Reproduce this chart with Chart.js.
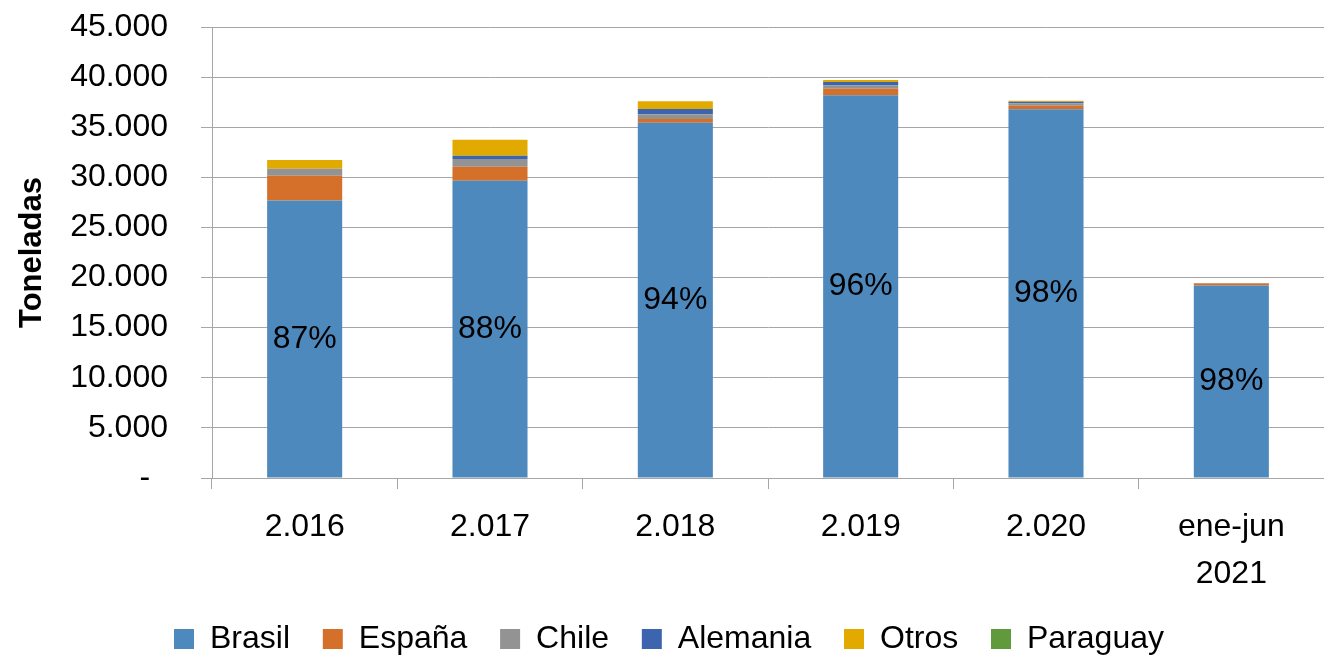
<!DOCTYPE html>
<html>
<head>
<meta charset="utf-8">
<script src="https://cdn.jsdelivr.net/npm/chart.js@4"></script>
<style>
  html, body { margin: 0; padding: 0; background: #fff; }
  #wrap { width: 1324px; height: 657px; }
</style>
</head>
<body>
<div id="wrap"><canvas id="chart"></canvas></div>
<script>
// categories and series (toneladas)
const categories = ['2.016', '2.017', '2.018', '2.019', '2.020', ['ene-jun', '2021']];
const brasil   = [27700, 29650, 35450, 38200, 36800, 19200];
const espana   = [2450, 1400, 380, 630, 330, 240];
const chile    = [700, 780, 470, 340, 270, 0];
const alemania = [0, 330, 530, 330, 130, 0];
const otros    = [880, 1590, 770, 200, 100, 0];
const paraguay = [0, 0, 0, 0, 0, 0];
const brasilShare = ['87%', '88%', '94%', '96%', '98%', '98%'];
const yTicks = [0, 5000, 10000, 15000, 20000, 25000, 30000, 35000, 40000, 45000];

const FONT = "'Liberation Sans', Arial, sans-serif";
const GRID = '#a6a6a6';

// formats 45000 -> 45.000, 0 -> '-'
function fmt(v) {
    if (v === 0) return '-  ';
    return v.toString().replace(/\B(?=(\d{3})+(?!\d))/g, '.');
}

// draws the share label in the middle of the Brasil bars
const shareLabels = {
    id: 'shareLabels',
    afterDatasetsDraw(chart) {
        const meta = chart.getDatasetMeta(0);
        const ctx = chart.ctx;
        ctx.save();
        ctx.font = '32px ' + FONT;
        ctx.fillStyle = '#000';
        ctx.textAlign = 'center';
        ctx.textBaseline = 'middle';
        meta.data.forEach((bar, i) => {
            ctx.fillText(brasilShare[i], bar.x, (bar.y + bar.base) / 2);
        });
        ctx.restore();
    }
};

// move the legend row down to where the reference has it
const legendShift = {
    id: 'legendShift',
    afterLayout(chart) {
        const lg = chart.legend;
        const h = lg.bottom - lg.top;
        lg.top = 608;
        lg.bottom = 608 + h;
    }
};

function ds(label, data, color) {
    return {
        label: label,
        data: data,
        backgroundColor: color,
        borderWidth: 0,
        categoryPercentage: 1,
        barPercentage: 0.405
    };
}

new Chart(document.getElementById('chart'), {
    type: 'bar',
    data: {
        labels: categories,
        datasets: [
            ds('Brasil', brasil, '#4e89be'),
            ds('España', espana, '#d5702b'),
            ds('Chile', chile, '#939393'),
            ds('Alemania', alemania, '#3d64ae'),
            ds('Otros', otros, '#e2aa00'),
            ds('Paraguay', paraguay, '#619a3c')
        ]
    },
    options: {
        responsive: true,
        maintainAspectRatio: false,
        animation: false,
        layout: { padding: { left: 14, top: 27, right: 0, bottom: 0 } },
        plugins: {
            tooltip: { enabled: false },
            legend: {
                position: 'bottom',
                labels: {
                    boxWidth: 20,
                    boxHeight: 20,
                    padding: 15,
                    color: '#000',
                    font: { family: FONT, size: 32 },
                    generateLabels(chart) {
                        const items = Chart.defaults.plugins.legend.labels.generateLabels(chart);
                        items.forEach((it, i) => {
                            if (i < items.length - 1) it.text += '  ';
                        });
                        return items;
                    }
                }
            }
        },
        scales: {
            x: {
                stacked: true,
                grid: {
                    display: true,
                    drawOnChartArea: false,
                    drawTicks: true,
                    tickLength: 11,
                    color: GRID,
                    offset: true
                },
                border: { display: true, color: GRID },
                ticks: {
                    color: '#000',
                    padding: 15,
                    maxRotation: 0,
                    font: { family: FONT, size: 32, lineHeight: 1.47 }
                },
                afterFit(scale) { scale.height = 122; }
            },
            y: {
                stacked: true,
                min: 0,
                max: 45000,
                afterBuildTicks(scale) { scale.ticks = yTicks.map(v => ({ value: v })); },
                grid: { color: GRID, tickLength: 11 },
                border: { display: true, color: GRID },
                ticks: {
                    color: '#000',
                    padding: 33,
                    font: { family: FONT, size: 32 },
                    callback: v => fmt(v)
                },
                title: {
                    display: true,
                    text: 'Toneladas',
                    color: '#000',
                    padding: 0,
                    font: { family: FONT, size: 31, weight: 'bold' }
                },
                afterFit(scale) {
                    scale.width = 198;
                    scale.paddingTop = 0;
                    scale.paddingBottom = 0;
                }
            }
        }
    },
    plugins: [shareLabels, legendShift]
});
</script>
</body>
</html>
